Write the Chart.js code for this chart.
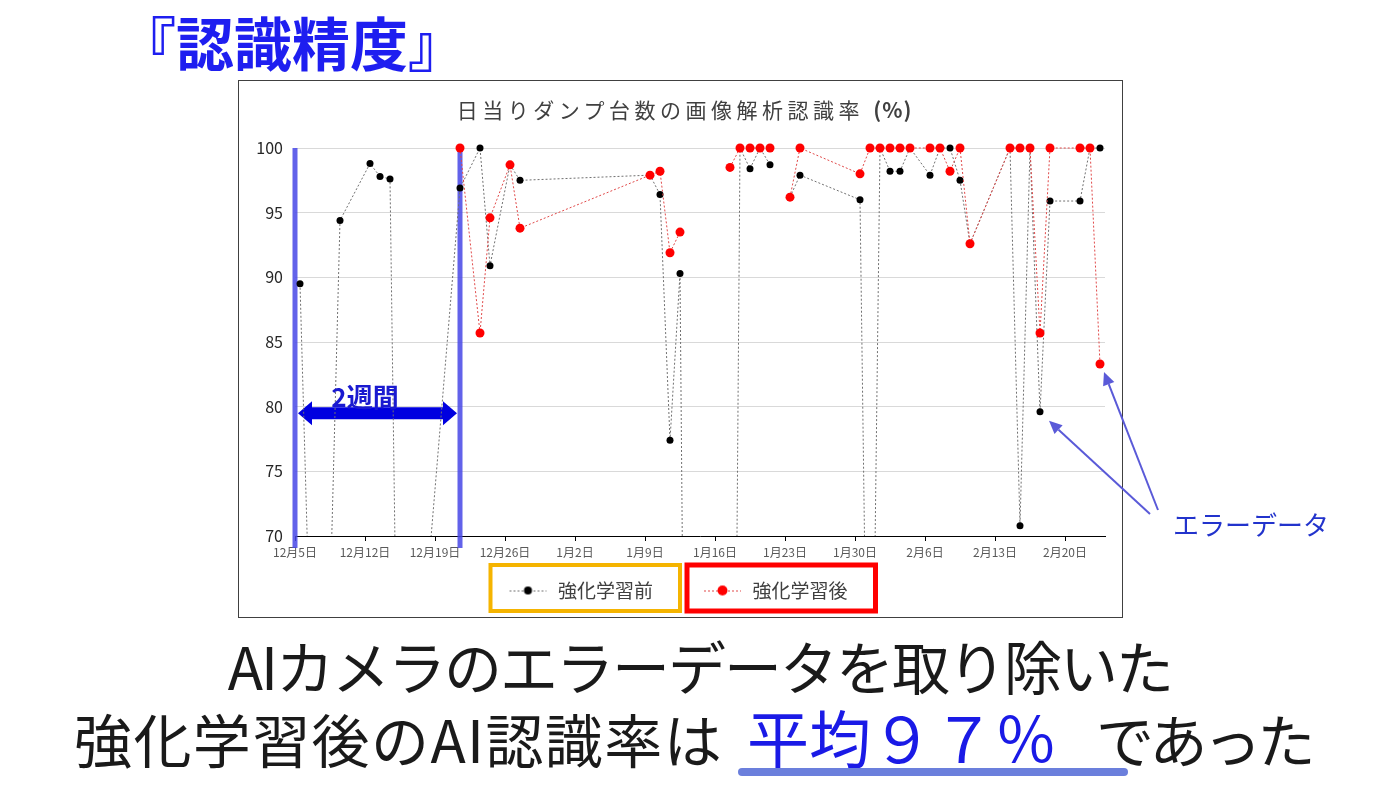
<!DOCTYPE html>
<html lang="ja">
<head>
<meta charset="utf-8">
<title>認識精度</title>
<script src="https://cdn.jsdelivr.net/npm/chart.js@4.4.1/dist/chart.umd.min.js"></script>
<style>
  html, body { margin: 0; padding: 0; background: #fff; }
  #page { position: relative; width: 1400px; height: 787px; overflow: hidden;
          font-family: 'Noto Sans CJK JP', 'Noto Sans', sans-serif; }
  #frame { position: absolute; left: 238px; top: 80px; width: 883px; height: 536px; border: 1px solid #404040; }
  #chart { position: absolute; left: 0; top: 0; }
  .txt { position: absolute; white-space: nowrap; line-height: 1; }
  #heading { left: 118px; top: 12px; font-size: 58px; font-weight: bold; color: #1e1ef0; }
  #chartTitle { left: 238px; width: 884px; padding-left: 9px; box-sizing: border-box; top: 99px;
                text-align: center; font-size: 21px; letter-spacing: 4.5px; color: #404040; }
  #chartTitle b { letter-spacing: 1px; }
  #period { left: 300px; width: 130px; text-align: center; top: 383px; font-size: 26px; font-weight: bold; color: #1a1ad0; }
  #errLabel { left: 1173px; top: 511px; font-size: 26px; color: #2233cc; }
  #line1 { left: 0; width: 1400px; text-align: center; top: 636px; font-size: 58px; letter-spacing: -2px; color: #1a1a1a; }
  #line2a { left: 74px; top: 709px; font-size: 58px; letter-spacing: 1.4px; color: #1a1a1a; }
  #line2b { left: 747px; top: 705px; font-size: 62px; color: #1a1ae6; }
  #line2c { left: 1096px; top: 709px; font-size: 58px; letter-spacing: -4px; color: #1a1a1a; }
  #underline { position: absolute; left: 738px; top: 768px; width: 390px; height: 8px; border-radius: 4px; background: #6b7fdc; }
</style>
</head>
<body>
<div id="page">
  <div id="frame"></div>
  <canvas id="chart" width="1400" height="787"></canvas>
  <div class="txt" id="heading">『認識精度』</div>
  <div class="txt" id="chartTitle">日当りダンプ台数の画像解析認識率 <b>(%)</b></div>
  <div class="txt" id="period">2週間</div>
  <div class="txt" id="errLabel">エラーデータ</div>
  <div class="txt" id="line1">AIカメラのエラーデータを取り除いた</div>
  <div class="txt" id="line2a">強化学習後のAI認識率は</div>
  <div class="txt" id="line2b">平均９７％</div>
  <div class="txt" id="line2c">であった</div>
  <div id="underline"></div>
</div>
<script>
// series names
const seriesNames = ['強化学習前', '強化学習後'];

// 強化学習前 (black)
const beforeDates = [
  '2022-12-05', '2022-12-07', '2022-12-09', '2022-12-12', '2022-12-13', '2022-12-14', '2022-12-15',
  '2022-12-21', '2022-12-23', '2022-12-24', '2022-12-26', '2022-12-27',
  '2023-01-09', '2023-01-10', '2023-01-11', '2023-01-12', '2023-01-13', '2023-01-17',
  '2023-01-18', '2023-01-19', '2023-01-20', '2023-01-21', '2023-01-22', '2023-01-23', '2023-01-24',
  '2023-01-30', '2023-01-31', '2023-02-01', '2023-02-02', '2023-02-03', '2023-02-04',
  '2023-02-06', '2023-02-07', '2023-02-08', '2023-02-09', '2023-02-10',
  '2023-02-14', '2023-02-15', '2023-02-16', '2023-02-17', '2023-02-18',
  '2023-02-21', '2023-02-22', '2023-02-23'
];
const beforeValues = [
  89.5, 35, 94.4, 98.8, 97.8, 97.6, 41,
  96.9, 100, 90.9, 98.7, 97.5,
  97.9, 96.4, 77.4, 90.3, 0, 0,
  100, 98.4, 100, 98.7, null, 96.2, 97.9,
  96.0, 38, 100, 98.2, 98.2, 100,
  97.9, 100, 100, 97.5, 92.6,
  100, 70.8, 100, 79.6, 95.9,
  95.9, 100, 100
];

// 強化学習後 (red)
const afterDates = [
  '2022-12-21', '2022-12-23', '2022-12-24', '2022-12-26', '2022-12-27',
  '2023-01-09', '2023-01-10', '2023-01-11', '2023-01-12', '2023-01-13',
  '2023-01-17', '2023-01-18', '2023-01-19', '2023-01-20', '2023-01-21', '2023-01-22',
  '2023-01-23', '2023-01-24', '2023-01-30', '2023-01-31', '2023-02-01', '2023-02-02',
  '2023-02-03', '2023-02-04', '2023-02-06', '2023-02-07', '2023-02-08', '2023-02-09',
  '2023-02-10', '2023-02-14', '2023-02-15', '2023-02-16', '2023-02-17', '2023-02-18',
  '2023-02-21', '2023-02-22', '2023-02-23'
];
const afterValues = [
  100, 85.7, 94.6, 98.7, 93.8,
  97.9, 98.2, 91.9, 93.5, null,
  98.5, 100, 100, 100, 100, null,
  96.2, 100, 98.0, 100, 100, 100,
  100, 100, 100, 100, 98.2, 100,
  92.6, 100, 100, 100, 85.7, 100,
  100, 100, 83.3
];

// x axis ticks
const tickDates = ['2022-12-05', '2022-12-12', '2022-12-19', '2022-12-26', '2023-01-02', '2023-01-09',
  '2023-01-16', '2023-01-23', '2023-01-30', '2023-02-06', '2023-02-13', '2023-02-20'];
const tickLabels = ['12月5日', '12月12日', '12月19日', '12月26日', '1月2日', '1月9日',
  '1月16日', '1月23日', '1月30日', '2月6日', '2月13日', '2月20日'];

const startDay = Date.parse(tickDates[0]);
const dayOf = d => (Date.parse(d) - startDay) / 86400000;
// excel date axis puts each point in the middle of its day
const toPoints = (dates, values) => dates.map((d, i) => ({x: dayOf(d) + 0.5, y: values[i]}));

Chart.defaults.font.family = "'Noto Sans CJK JP', 'Noto Sans', sans-serif";

// legend symbol: dotted line with a dot (left part left empty for spacing)
function legendSymbol(lineColor, dotColor, r) {
  const c = document.createElement('canvas');
  c.width = 80; c.height = 14;
  const g = c.getContext('2d');
  g.strokeStyle = lineColor; g.lineWidth = 1; g.setLineDash([2, 2]);
  g.beginPath(); g.moveTo(41, 7.5); g.lineTo(78, 7.5); g.stroke();
  g.fillStyle = dotColor;
  g.beginPath(); g.arc(59.5, 7, r, 0, Math.PI * 2); g.fill();
  return c;
}

function drawArrow(ctx, x0, y0, x1, y1) {
  const a = Math.atan2(y1 - y0, x1 - x0);
  const hl = 13, hw = 6;
  ctx.beginPath(); ctx.moveTo(x0, y0);
  ctx.lineTo(x1 - hl * Math.cos(a), y1 - hl * Math.sin(a)); ctx.stroke();
  ctx.beginPath(); ctx.moveTo(x1, y1);
  ctx.lineTo(x1 - hl * Math.cos(a) + hw * Math.sin(a), y1 - hl * Math.sin(a) - hw * Math.cos(a));
  ctx.lineTo(x1 - hl * Math.cos(a) - hw * Math.sin(a), y1 - hl * Math.sin(a) + hw * Math.cos(a));
  ctx.closePath(); ctx.fill();
}

const annotations = {
  id: 'annotations',
  afterLayout(chart) {
    // legend items have an empty left part; move the legend so the visible part is centred
    chart.legend.left -= 26;
    chart.legend.right -= 26;
  },
  beforeDatasetsDraw(chart) {
    const {ctx, chartArea, scales: {x, y}} = chart;
    ctx.save();
    // two week markers
    ctx.fillStyle = 'rgba(70,70,230,0.85)';
    const xa = x.getPixelForValue(0), xb = x.getPixelForValue(dayOf('2022-12-21') + 0.5);
    [xa, xb].forEach(px => ctx.fillRect(px - 2.5, chartArea.top, 5, chartArea.bottom - chartArea.top + 12));
    // double arrow
    const ay = y.getPixelForValue(79.5);
    const x0 = xa + 3, x1 = xb - 3;
    ctx.fillStyle = '#0000e0';
    ctx.beginPath();
    ctx.moveTo(x0, ay);
    ctx.lineTo(x0 + 14, ay - 12); ctx.lineTo(x0 + 14, ay - 6);
    ctx.lineTo(x1 - 14, ay - 6); ctx.lineTo(x1 - 14, ay - 12);
    ctx.lineTo(x1, ay);
    ctx.lineTo(x1 - 14, ay + 12); ctx.lineTo(x1 - 14, ay + 6);
    ctx.lineTo(x0 + 14, ay + 6); ctx.lineTo(x0 + 14, ay + 12);
    ctx.closePath(); ctx.fill();
    ctx.restore();
  },
  afterDraw(chart) {
    const ctx = chart.ctx;
    ctx.save();
    // coloured frames round the legend items
    const boxColors = ['#f5b400', '#ff0000'];
    chart.legend.legendHitBoxes.forEach((hb, i) => {
      ctx.lineWidth = i ? 5 : 4;
      ctx.strokeStyle = boxColors[i];
      const l = hb.left + (i ? 24 : 22), r = hb.left + hb.width + (i ? 28 : 27);
      const t = hb.top - 16, b = hb.top + hb.height + 11;
      ctx.strokeRect(l, t, r - l, b - t);
    });
    // error data arrows
    ctx.strokeStyle = '#5a5ad8'; ctx.fillStyle = '#5a5ad8'; ctx.lineWidth = 2;
    const red = chart.getDatasetMeta(1).data;
    const lastRed = red[red.length - 1];
    const blackErr = chart.getDatasetMeta(0).data[beforeDates.indexOf('2023-02-17')];
    drawArrow(ctx, 1158, 510, lastRed.x + 4, lastRed.y + 8);
    drawArrow(ctx, 1150, 514, blackErr.x + 9, blackErr.y + 9);
    ctx.restore();
  }
};

new Chart(document.getElementById('chart'), {
  type: 'line',
  data: {
    datasets: [{
      label: seriesNames[0],
      data: toPoints(beforeDates, beforeValues),
      order: 2,
      borderColor: '#707070',
      borderWidth: 1,
      borderDash: [2, 2],
      pointRadius: 3.5,
      pointBackgroundColor: '#000',
      pointBorderWidth: 0,
      tension: 0,
      clip: {left: 10, top: 10, right: 10, bottom: 0}
    }, {
      label: seriesNames[1],
      data: toPoints(afterDates, afterValues),
      order: 1,
      borderColor: '#e04848',
      borderWidth: 1,
      borderDash: [2, 2],
      pointRadius: 4.5,
      pointBackgroundColor: '#ff0000',
      pointBorderWidth: 0,
      tension: 0,
      clip: {left: 10, top: 10, right: 10, bottom: 0}
    }]
  },
  options: {
    responsive: false,
    animation: false,
    events: [],
    layout: { padding: {left: 238, right: 270, top: 148, bottom: 177} },
    plugins: {
      title: { display: false },
      tooltip: { enabled: false },
      legend: {
        position: 'bottom',
        labels: {
          usePointStyle: true,
          pointStyleWidth: 80,
          padding: 10,
          color: '#404040',
          font: { size: 19 },
          generateLabels: () => [
            { text: seriesNames[0], pointStyle: legendSymbol('#707070', '#000', 4), datasetIndex: 0,
              fontColor: '#404040', lineWidth: 0, hidden: false },
            { text: seriesNames[1], pointStyle: legendSymbol('#e04848', '#ff0000', 5), datasetIndex: 1,
              fontColor: '#404040', lineWidth: 0, hidden: false }
          ]
        }
      }
    },
    scales: {
      x: {
        type: 'linear',
        min: 0,
        max: 81,
        afterBuildTicks: s => { s.ticks = tickDates.map(d => ({value: dayOf(d)})); },
        afterFit: s => { s.height = 35; },
        grid: { drawOnChartArea: false, drawTicks: true, tickLength: 5, color: '#000' },
        border: { color: '#000', width: 1 },
        ticks: {
          autoSkip: false, maxRotation: 0, padding: 4,
          color: '#595959', font: { size: 12 },
          callback: (v, i) => tickLabels[i]
        }
      },
      y: {
        min: 70,
        max: 100,
        afterFit: s => { s.width = 57; },
        grid: { color: '#d9d9d9', drawTicks: false },
        border: { display: false },
        ticks: { stepSize: 5, padding: 12, color: '#262626', font: { size: 16 } }
      },
      y2: {
        position: 'right',
        afterFit: s => { s.width = 25; },
        grid: { display: false },
        border: { display: false },
        ticks: { display: false }
      }
    }
  },
  plugins: [annotations]
});
</script>
</body>
</html>
